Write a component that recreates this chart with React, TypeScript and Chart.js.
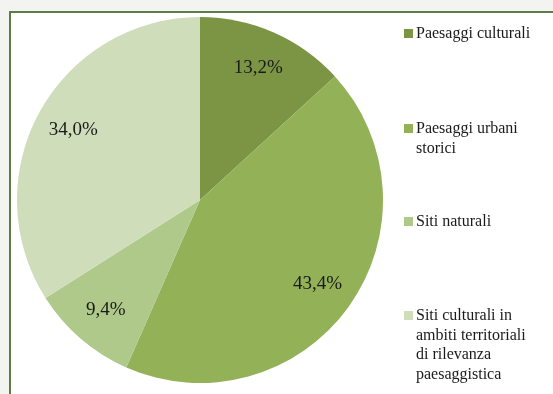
import React, { useEffect, useRef } from "react";
import { Chart, registerables } from "chart.js";

Chart.register(...registerables);

const categories: string[] = [
  "Paesaggi culturali",
  "Paesaggi urbani storici",
  "Siti naturali",
  "Siti culturali in ambiti territoriali di rilevanza paesaggistica",
];
const shares: number[] = [13.2, 43.4, 9.4, 34.0];
const sliceColors: string[] = ["#7b9545", "#93b157", "#afc98a", "#cfddbb"];

const FONT = "'Liberation Serif', 'Times New Roman', serif";

const pctLabelPlugin = {
  id: "pctLabels",
  afterDatasetsDraw(chart: any) {
    const { ctx } = chart;
    const meta = chart.getDatasetMeta(0);
    ctx.save();
    ctx.font = `19px ${FONT}`;
    ctx.fillStyle = "#1a1a1a";
    ctx.textAlign = "center";
    ctx.textBaseline = "middle";
    meta.data.forEach((arc: any, i: number) => {
      const { x, y, startAngle, endAngle, outerRadius } = arc.getProps(
        ["x", "y", "startAngle", "endAngle", "outerRadius"],
        true
      );
      const mid = (startAngle + endAngle) / 2;
      const r = outerRadius * 0.79;
      const v = shares[i].toFixed(1).replace(".", ",") + "%";
      ctx.fillText(v, x + Math.cos(mid) * r, y + Math.sin(mid) * r);
    });
    ctx.restore();
  },
};

const legendTops = [23, 118, 211, 305];

export default function App() {
  const ref = useRef<HTMLCanvasElement | null>(null);

  useEffect(() => {
    if (!ref.current) return;
    const chart = new Chart(ref.current, {
      type: "pie",
      data: {
        labels: categories,
        datasets: [
          {
            data: shares,
            backgroundColor: sliceColors,
            borderWidth: 0,
          },
        ],
      },
      options: {
        animation: false,
        responsive: false,
        maintainAspectRatio: false,
        layout: { padding: { left: 17, right: 170, top: 17, bottom: 11 } },
        plugins: {
          legend: { display: false },
          tooltip: { enabled: false },
        },
      },
      plugins: [pctLabelPlugin],
    });
    return () => chart.destroy();
  }, []);

  return (
    <div
      style={{
        position: "fixed",
        left: 0,
        top: 0,
        width: 553,
        height: 394,
        overflow: "hidden",
        background: "#f3f3f1",
      }}
    >
      <div
        style={{
          position: "absolute",
          left: 9,
          top: 11,
          width: 600,
          height: 450,
          background: "#ffffff",
          borderLeft: "2px solid #5e7c45",
          borderTop: "2px solid #5e7c45",
        }}
      />
      <canvas
        ref={ref}
        width={553}
        height={394}
        style={{ position: "absolute", left: 0, top: 0, width: 553, height: 394 }}
      />
      {categories.map((c, i) => (
        <div
          key={c}
          style={{
            position: "absolute",
            left: 404,
            top: legendTops[i],
            width: 145,
            display: "flex",
            alignItems: "flex-start",
            fontFamily: FONT,
            fontSize: 16,
            lineHeight: "19.5px",
            color: "#1a1a1a",
          }}
        >
          <span
            style={{
              display: "inline-block",
              width: 9,
              height: 9,
              marginTop: 6,
              marginRight: 3,
              background: sliceColors[i],
              flex: "0 0 auto",
            }}
          />
          <span style={{ width: 122 }}>{c}</span>
        </div>
      ))}
    </div>
  );
}
